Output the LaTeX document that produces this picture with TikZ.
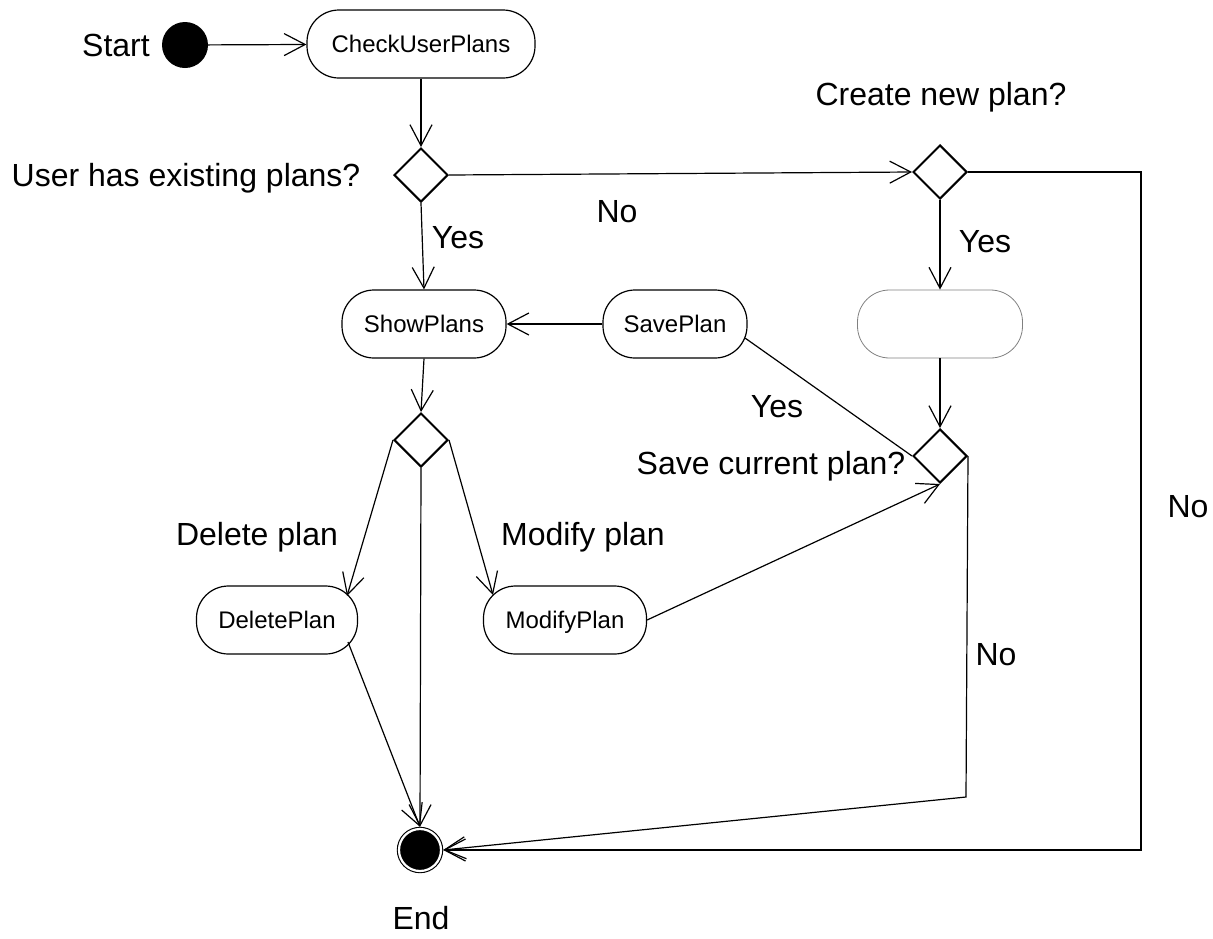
\documentclass[tikz,border=0pt]{standalone}
\usepackage{fontspec}
\setmainfont{Liberation Sans}
\usetikzlibrary{positioning,calc,shapes.geometric,arrows.meta}
\tikzset{
	action/.style = {rectangle, rounded corners=32pt, draw, line width=1.2pt, minimum height=68pt, minimum width=164pt, inner sep=0pt, text height=18pt, text depth=2pt, font=\fontsize{24}{28}\selectfont},
	choice/.style = {diamond, draw, line width=2pt, minimum width=54pt, minimum height=54pt, inner sep=0pt},
	flow/.style   = {line width=1.2pt, -{Straight Barb[length=21pt, width=22pt, line width=1.2pt]}},
	link/.style   = {line width=1.2pt},
	lbl/.style    = {font=\fontsize{32}{38}\selectfont, inner sep=0pt}
}

\begin{document}
\begin{tikzpicture} [x=1pt, y=-1pt]
		\useasboundingbox (0,0) rectangle (1213,938);

		\node at (185,45)  [circle, fill=black, minimum size=46pt, inner sep=0pt] (start) {};
		\node at (421,44)  [action, minimum width=228pt] (check) {CheckUserPlans};
		\node at (421,175) [choice] (hasplans) {};
		\node at (940,172) [choice] (newplan) {};
		\node at (424,324) [action] (show) {ShowPlans};
		\node at (675,324) [action, minimum width=144pt] (save) {SavePlan};
		\node at (940,324) [action, draw=gray, line width=0.8pt, minimum width=165pt] (create) {};
		\node at (421,440) [choice] (pick) {};
		\node at (940,456) [choice] (savecur) {};
		\node at (277,620) [action, minimum width=161pt] (delete) {DeletePlan};
		\node at (565,620) [action, minimum width=163pt] (modify) {ModifyPlan};
		\node at (420,850) [circle, fill=black, draw, line width=1.1pt, double=white, double distance=2.2pt, minimum size=42pt, inner sep=0pt, outer sep=2.2pt] (end) {};
		\coordinate (rightturn) at (1141,172);
		\coordinate (noturn) at (966,797);

		% labels
		\node at (116,45)  [lbl] (startlbl) {Start};
		\node at (186,178) [lbl] (haslbl) {User has existing plans?};
		\node at (458,238) [lbl] (yes1) {Yes};
		\node at (617,212) [lbl] (no1) {No};
		\node at (941,97)  [lbl] (newlbl) {Create new plan?};
		\node at (985,242) [lbl] (yes2) {Yes};
		\node at (777,407) [lbl] (yes3) {Yes};
		\node at (771,466) [lbl] (savelbl) {Save current plan?};
		\node at (257,537) [lbl] (dellbl) {Delete plan};
		\node at (583,537) [lbl] (modlbl) {Modify plan};
		\node at (996,655) [lbl] (no2) {No};
		\node at (1188,507)[lbl] (no3) {No};
		\node at (421,918) [lbl] (endlbl) {End};

		\draw [flow] (start) -- (check);
		\draw [flow] (check) -- (hasplans);
		\draw [flow] (hasplans.south) -- (show.north);
		\draw [flow] (hasplans.east) -- (newplan.west);
		\draw [flow] (newplan.south) -- (create.north);
		\draw [flow] (newplan.east) -- (rightturn) |- (end.east);
		\draw [flow] (create.south) -- (savecur.north);
		\draw [flow] (save) -- (show);
		\draw [flow] (show.south) -- (pick.north);
		\draw [link] ($(save.center)+(70,14)$) -- (savecur.west);
		\draw [flow] (pick.west) -- ($(delete.center)+(70,-24)$);
		\draw [flow] (pick.east) -- ($(modify.center)+(-72,-25)$);
		\draw [flow] (pick.south) -- (end.north);
		\draw [flow] ($(delete.center)+(71,22)$) -- (end.north);
		\draw [flow] (modify.east) -- (savecur.south);
		\draw [flow] (savecur.east) -- (noturn) -- (end.east);
	\end{tikzpicture}
\end{document}
